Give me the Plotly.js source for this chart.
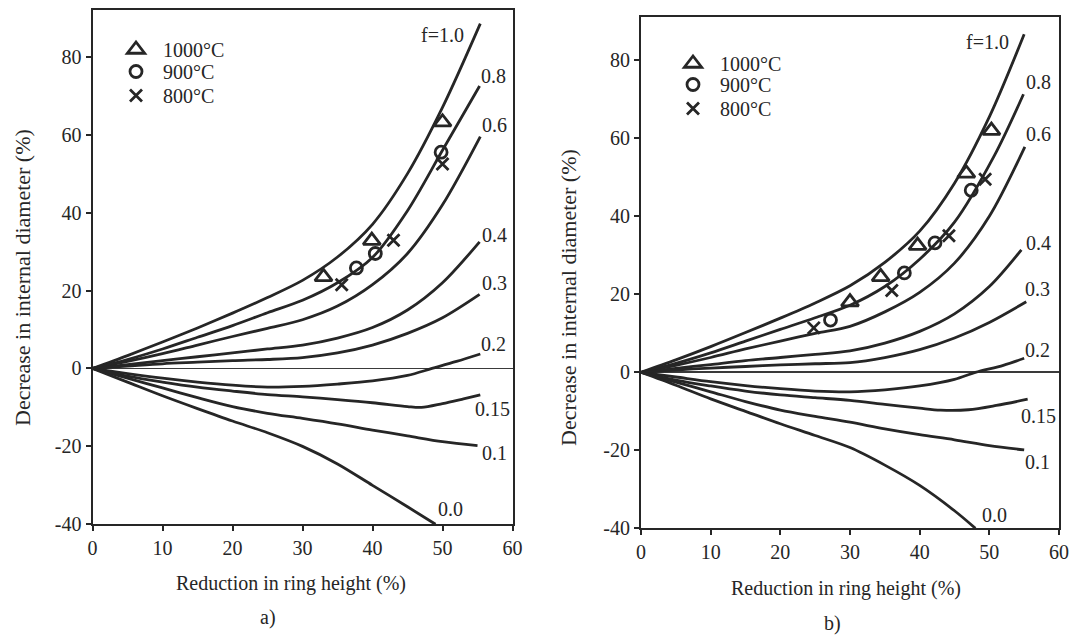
<!DOCTYPE html>
<html>
<head>
<meta charset="utf-8">
<script src="https://cdn.plot.ly/plotly-3.0.1.min.js"></script>
<style>
html,body{margin:0;padding:0;background:#fff;}
#chart{width:1083px;height:639px;}
</style>
</head>
<body>
<div id="chart"></div>
<script>
// ---------- DATA ----------
var curveNames = ["f=1.0","0.8","0.6","0.4","0.3","0.2","0.15","0.1","0.0"];

// Panel a) curves: x = reduction in ring height (%), y = decrease in internal diameter (%)
var aX_f10 = [0,5,10,15,20,25,30,35,40,45,50,55.4];
var aY_f10 = [0,3.3,6.8,10.4,14.2,18.2,22.6,28.6,37,50,67,88.5];
var aX_f08 = [0,5,10,15,20,25,30,35,40,45,50,55.3];
var aY_f08 = [0,2.3,5,8,11,14.3,17.5,22,28.5,40.5,56,72.5];
var aX_f06 = [0,5,10,15,20,25,30,35,40,45,50,55.4];
var aY_f06 = [0,1.8,3.8,6,8.2,10.3,12.5,16,21.5,29.5,42,59.5];
var aX_f04 = [0,5,10,15,20,25,30,35,40,45,50,55.3];
var aY_f04 = [0,1,2,3,4,5,6,7.8,10.5,15,22,32.5];
var aX_f03 = [0,5,10,15,20,25,30,35,40,45,50,55.3];
var aY_f03 = [0,0.6,1.2,1.6,2,2.3,2.8,4,6,9,13,19];
var aX_f02 = [0,5,10,15,20,25,30,35,40,45,48.5,52,55.4];
var aY_f02 = [0,-1.3,-2.5,-3.5,-4.3,-4.8,-4.6,-4,-3.2,-1.8,0,1.8,3.7];
var aX_f015 = [0,5,10,15,20,25,30,35,40,45,47,50,53,55.4];
var aY_f015 = [0,-2,-3.5,-4.8,-5.8,-6.7,-7.3,-8,-8.8,-9.8,-10,-9,-7.8,-6.8];
var aX_f01 = [0,5,10,15,20,25,30,35,40,45,50,55];
var aY_f01 = [0,-2.5,-5,-7.5,-9.8,-11.5,-12.8,-14.2,-15.8,-17.3,-18.8,-19.8];
var aX_f00 = [0,5,10,15,20,25,30,35,40,45,49];
var aY_f00 = [0,-3.5,-7,-10.3,-13.5,-16.5,-20,-24.5,-30,-35.5,-40];

// Panel a) measured points
var aT_x = [33,39.9,50];     var aT_y = [23.5,32.8,63.2];   // 1000°C
var aC_x = [37.7,40.4,49.8]; var aC_y = [25.8,29.5,55.5];   // 900°C
var aK_x = [35.6,43,50];     var aK_y = [21.5,32.9,52.5];   // 800°C

// Panel a) curve label positions
var aLabX = [50,57.3,57.4,57.4,57.4,57.3,57.2,57.4,51.1];
var aLabY = [85.5,75,62.4,34.2,21.9,6.2,-10.3,-21.6,-36.2];

// Panel b) curves
var bX_f10 = [0,5,10,15,20,25,30,35,40,45,50,55];
var bY_f10 = [0,3.2,6.6,10.2,13.9,17.8,22.2,28.2,36.2,48.5,65.5,86.7];
var bX_f08 = [0,5,10,15,20,25,30,35,40,45,50.7,54.9];
var bY_f08 = [0,2.3,5,8,11,14,17.2,22,29,38.5,55.5,71.3];
var bX_f06 = [0,5,10,15,20,25,30,35,40,45,50,55.1];
var bY_f06 = [0,1.8,3.8,6,8,10,11.8,15.5,20.5,28,40,57.8];
var bX_f04 = [0,5,10,15,20,25,30,35,40,45,50,54.6];
var bY_f04 = [0,1,2,3,3.8,4.6,5.5,7.5,10.5,15,22,31.4];
var bX_f03 = [0,5,10,15,20,25,30,35,40,45,50,55.3];
var bY_f03 = [0,0.6,1.1,1.5,1.9,2.2,2.5,3.8,5.8,8.8,12.8,18.1];
var bX_f02 = [0,5,10,15,20,25,30,35,40,45,48,52,55];
var bY_f02 = [0,-1.2,-2.4,-3.4,-4.2,-4.8,-5,-4.5,-3.5,-1.8,0,1.8,3.6];
var bX_f015 = [0,5,10,15,20,25,30,35,40,43,47,51,55.5];
var bY_f015 = [0,-2,-3.5,-4.8,-5.8,-6.5,-7.2,-8.2,-9.2,-9.7,-9.6,-8.5,-6.9];
var bX_f01 = [0,5,10,15,20,25,30,35,40,45,50,55];
var bY_f01 = [0,-2.5,-5,-7.5,-9.7,-11.3,-12.8,-14.5,-16,-17.3,-18.8,-19.9];
var bX_f00 = [0,5,10,15,20,25,30,35,40,45,48];
var bY_f00 = [0,-3.3,-6.8,-10,-13.2,-16.2,-19.3,-23.8,-29,-35.5,-40];

// Panel b) measured points
var bT_x = [30,34.4,39.7,46.7,50.3]; var bT_y = [18,24.5,32.5,51,62];
var bC_x = [27.2,37.8,42.2,47.4];    var bC_y = [13.4,25.5,33.2,46.7];
var bK_x = [24.8,36,44.2,49.4];      var bK_y = [11.4,21,35,49.5];

// Panel b) curve label positions
var bLabX = [49.8,57,57,57,56.9,56.9,57,56.9,50.8];
var bLabY = [84.8,74.5,61.1,33.2,21.4,5.7,-11.1,-23.1,-36.6];

var seriesNames = ["1000°C","900°C","800°C"];
var xTicks = [0,10,20,30,40,50,60];
var yTicks = [-40,-20,0,20,40,60,80];

// ---------- BUILD ----------
var INK = "#262626";
var FONT = "Liberation Serif, Times New Roman, serif";
var W = 1083, H = 639;
function px(x){ return x / W; }
function py(y){ return 1 - y / H; }

var aCurves = [[aX_f10,aY_f10],[aX_f08,aY_f08],[aX_f06,aY_f06],[aX_f04,aY_f04],[aX_f03,aY_f03],[aX_f02,aY_f02],[aX_f015,aY_f015],[aX_f01,aY_f01],[aX_f00,aY_f00]];
var bCurves = [[bX_f10,bY_f10],[bX_f08,bY_f08],[bX_f06,bY_f06],[bX_f04,bY_f04],[bX_f03,bY_f03],[bX_f02,bY_f02],[bX_f015,bY_f015],[bX_f01,bY_f01],[bX_f00,bY_f00]];

var traces = [];
function addCurves(curves, xa, ya){
  curves.forEach(function(c, i){
    traces.push({x:c[0], y:c[1], xaxis:xa, yaxis:ya, mode:"lines", type:"scatter",
      line:{color:INK, width:2.8, shape:"spline", smoothing:0.9},
      showlegend:false, hoverinfo:"skip", name:curveNames[i]});
  });
}
addCurves(aCurves, "x", "y");
addCurves(bCurves, "x2", "y2");

var symbols = ["triangle-up-open","circle-open","x-thin-open"];
var sizes = [15, 12, 12];
// one legend box per entry so the rows can sit as tightly as in the original
var aLegends = ["legend","legend3","legend4"];
var bLegends = ["legend2","legend5","legend6"];
function addPoints(sets, xa, ya, lgs){
  sets.forEach(function(s, i){
    traces.push({x:s[0], y:s[1], xaxis:xa, yaxis:ya, mode:"markers", type:"scatter",
      name:seriesNames[i], legend:lgs[i], showlegend:true,
      marker:{symbol:symbols[i], size:sizes[i], color:INK, line:{color:INK, width:2.8}}});
  });
}
addPoints([[aT_x,aT_y],[aC_x,aC_y],[aK_x,aK_y]], "x", "y", aLegends);
addPoints([[bT_x,bT_y],[bC_x,bC_y],[bK_x,bK_y]], "x2", "y2", bLegends);

var annotations = [];
function addLabels(lx, ly, xr, yr){
  curveNames.forEach(function(n, i){
    annotations.push({x:lx[i], y:ly[i], xref:xr, yref:yr, text:n, showarrow:false,
      font:{family:FONT, size:20, color:INK}, xanchor:"center", yanchor:"middle"});
  });
}
addLabels(aLabX, aLabY, "x", "y");
addLabels(bLabX, bLabY, "x2", "y2");

// axis titles & panel letters
function txt(t, x, y, ang, size){
  annotations.push({text:t, xref:"paper", yref:"paper", x:px(x), y:py(y), showarrow:false,
    xanchor:"center", yanchor:"middle", textangle:ang||0, font:{family:FONT, size:size||18, color:INK}});
}
txt("Reduction in ring height (%)", 291, 583, 0, 20);
txt("Decrease in internal diameter (%)", 22, 278, -90, 22);
txt("a)", 268, 617, 0, 20);
txt("Reduction in ring height (%)", 846, 588, 0, 20);
txt("Decrease in internal diameter (%)", 568, 298, -90, 22);
txt("b)", 832, 623, 0, 20);

function xAxis(dom, anchor){
  return {domain:dom, anchor:anchor, range:[0,60], tickvals:xTicks, ticktext:xTicks.map(String),
    showgrid:false, zeroline:false, showline:true, linecolor:INK, linewidth:2, mirror:true,
    ticks:"outside", ticklen:5, tickwidth:2, tickcolor:INK,
    tickfont:{family:FONT, size:20, color:INK}, fixedrange:true};
}
function yAxis(dom, anchor, top){
  return {domain:dom, anchor:anchor, range:[-40,top], tickvals:yTicks, ticktext:yTicks.map(String),
    showgrid:false, zeroline:true, zerolinecolor:"#3a3a3a", zerolinewidth:1.8,
    showline:true, linecolor:INK, linewidth:2, mirror:true,
    ticks:"outside", ticklen:5, tickwidth:2, tickcolor:INK,
    tickfont:{family:FONT, size:20, color:INK}, fixedrange:true};
}

function leg(xPix, topPix){
  return {x:px(xPix), y:py(topPix), bgcolor:"rgba(0,0,0,0)", borderwidth:0,
    font:{family:FONT, size:20, color:INK}, xanchor:"left", yanchor:"top",
    itemwidth:44, itemclick:false, itemdoubleclick:false};
}

var layout = {
  width:W, height:H, margin:{l:0, r:0, t:0, b:0},
  paper_bgcolor:"#fff", plot_bgcolor:"#fff",
  showlegend:true,
  xaxis: xAxis([px(92.5), px(512.5)], "y"),
  yaxis: yAxis([py(524.3), py(10)], "x", 92),
  xaxis2: xAxis([px(641), px(1059)], "y2"),
  yaxis2: yAxis([py(528.3), py(16.7)], "x2", 91.2),
  legend:  leg(109, 30),
  legend3: leg(109, 52),
  legend4: leg(109, 76),
  legend2: leg(666, 44),
  legend5: leg(666, 65),
  legend6: leg(666, 89),
  annotations: annotations
};

Plotly.newPlot("chart", traces, layout, {displayModeBar:false, staticPlot:true});
</script>
</body>
</html>
